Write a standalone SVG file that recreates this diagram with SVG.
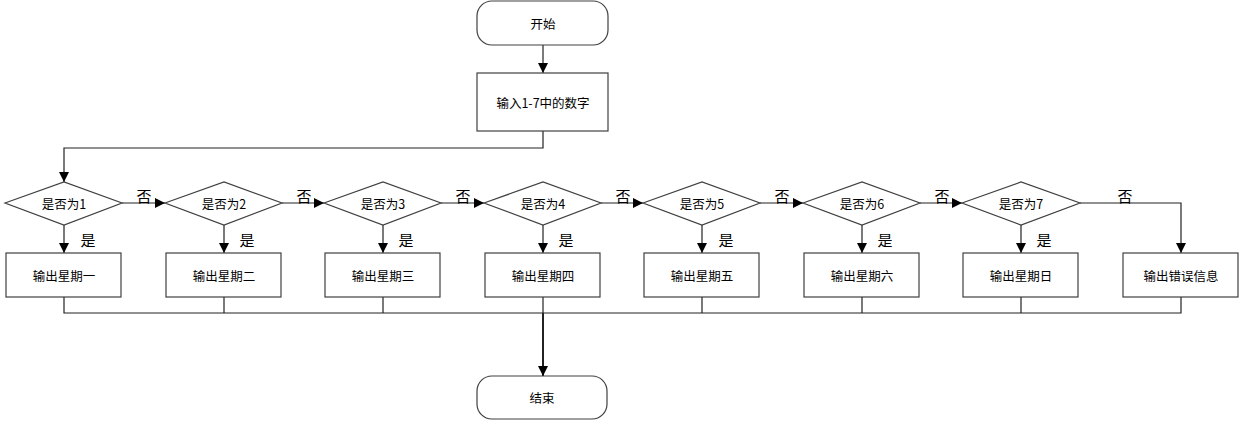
<svg xmlns="http://www.w3.org/2000/svg" width="1243" height="421" viewBox="0 0 1243 421">
<style>
.n{fill:#fff;stroke:#404040;stroke-width:1.2}
.t{font-family:"Noto Sans CJK SC","Liberation Sans",sans-serif;font-size:12.5px;fill:#000;text-anchor:middle;dominant-baseline:central}
.l{font-family:"Noto Sans CJK SC","Liberation Sans",sans-serif;font-size:15px;fill:#000;text-anchor:middle;dominant-baseline:central}
.c{fill:none;stroke:#222;stroke-width:1.2}
</style>
<defs>
<marker id="a" viewBox="0 0 10 10" refX="10" refY="5" markerWidth="10" markerHeight="10" markerUnits="userSpaceOnUse" orient="auto"><path d="M0,0L10,5L0,10Z" fill="#000"/></marker>
</defs>
<rect width="1243" height="421" fill="#fff"/>
<g id="connectors">
<path class="c" d="M543,45V73" marker-end="url(#a)"/>
<path class="c" d="M543,131V148H64V182" marker-end="url(#a)"/>
<path class="c" d="M122,203H165" marker-end="url(#a)"/>
<path class="c" d="M282,203H324" marker-end="url(#a)"/>
<path class="c" d="M441,203H484" marker-end="url(#a)"/>
<path class="c" d="M601,203H643" marker-end="url(#a)"/>
<path class="c" d="M760,203H803" marker-end="url(#a)"/>
<path class="c" d="M920,203H962" marker-end="url(#a)"/>
<path class="c" d="M1080,203H1181V253" marker-end="url(#a)"/>
<path class="c" d="M64,225V253" marker-end="url(#a)"/>
<path class="c" d="M224,225V253" marker-end="url(#a)"/>
<path class="c" d="M383,225V253" marker-end="url(#a)"/>
<path class="c" d="M543,225V253" marker-end="url(#a)"/>
<path class="c" d="M702,225V253" marker-end="url(#a)"/>
<path class="c" d="M862,225V253" marker-end="url(#a)"/>
<path class="c" d="M1021,225V253" marker-end="url(#a)"/>
<path class="c" d="M64,297V313H1181V297M224,297V313M383,297V313M702,297V313M862,297V313M1021,297V313"/>
<path class="c" d="M543,297V313"/>
<path class="c" style="stroke-width:2" d="M543,313V376" marker-end="url(#a)"/>
<text class="l" x="144" y="195">否</text>
<text class="l" x="304" y="195">否</text>
<text class="l" x="463" y="195">否</text>
<text class="l" x="623" y="195">否</text>
<text class="l" x="782" y="195">否</text>
<text class="l" x="942" y="195">否</text>
<text class="l" x="1125" y="195">否</text>
<text class="l" x="88" y="239">是</text>
<text class="l" x="247" y="239">是</text>
<text class="l" x="406" y="239">是</text>
<text class="l" x="566" y="239">是</text>
<text class="l" x="726" y="239">是</text>
<text class="l" x="885" y="239">是</text>
<text class="l" x="1044" y="239">是</text>
</g>
<g id="start"><rect class="n" x="477" y="1" width="131" height="44" rx="15"/><text class="t" x="543" y="23">开始</text></g>
<g id="input"><rect class="n" x="477" y="73" width="131" height="58"/><text class="t" x="543" y="102">输入1-7中的数字</text></g>
<g id="d1"><path class="n" d="M5,203L64,182L122,203L64,225Z"/><text class="t" x="64" y="203">是否为1</text></g>
<g id="d2"><path class="n" d="M165,203L224,182L282,203L224,225Z"/><text class="t" x="224" y="203">是否为2</text></g>
<g id="d3"><path class="n" d="M324,203L383,182L441,203L383,225Z"/><text class="t" x="383" y="203">是否为3</text></g>
<g id="d4"><path class="n" d="M484,203L543,182L601,203L543,225Z"/><text class="t" x="543" y="203">是否为4</text></g>
<g id="d5"><path class="n" d="M643,203L702,182L760,203L702,225Z"/><text class="t" x="702" y="203">是否为5</text></g>
<g id="d6"><path class="n" d="M803,203L862,182L920,203L862,225Z"/><text class="t" x="862" y="203">是否为6</text></g>
<g id="d7"><path class="n" d="M962,203L1021,182L1080,203L1021,225Z"/><text class="t" x="1021" y="203">是否为7</text></g>
<g id="b1"><rect class="n" x="6" y="253" width="115" height="44"/><text class="t" x="64" y="275">输出星期一</text></g>
<g id="b2"><rect class="n" x="166" y="253" width="115" height="44"/><text class="t" x="224" y="275">输出星期二</text></g>
<g id="b3"><rect class="n" x="325" y="253" width="115" height="44"/><text class="t" x="383" y="275">输出星期三</text></g>
<g id="b4"><rect class="n" x="485" y="253" width="115" height="44"/><text class="t" x="543" y="275">输出星期四</text></g>
<g id="b5"><rect class="n" x="644" y="253" width="115" height="44"/><text class="t" x="702" y="275">输出星期五</text></g>
<g id="b6"><rect class="n" x="804" y="253" width="115" height="44"/><text class="t" x="862" y="275">输出星期六</text></g>
<g id="b7"><rect class="n" x="963" y="253" width="115" height="44"/><text class="t" x="1021" y="275">输出星期日</text></g>
<g id="b8"><rect class="n" x="1123" y="253" width="115" height="44"/><text class="t" x="1181" y="275">输出错误信息</text></g>
<g id="end"><rect class="n" x="477" y="376" width="130" height="43" rx="15"/><text class="t" x="542" y="397">结束</text></g>
</svg>
